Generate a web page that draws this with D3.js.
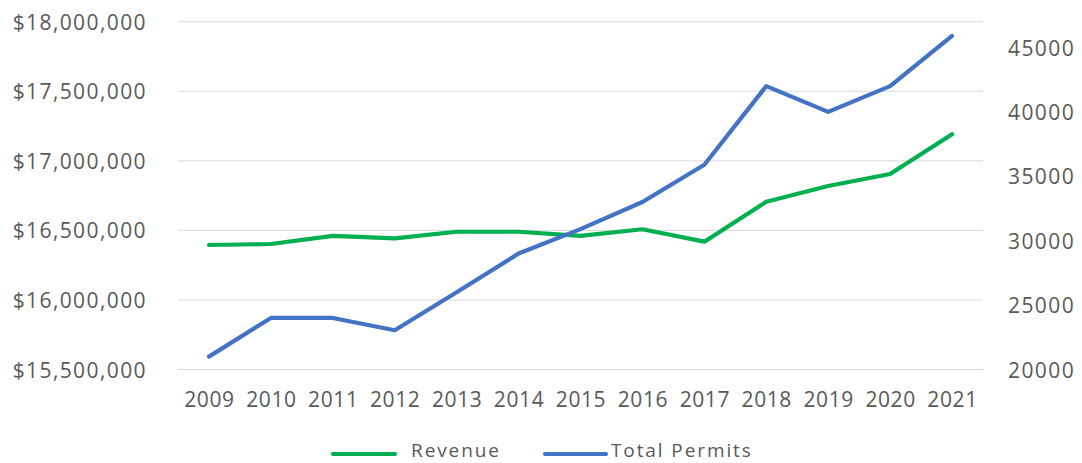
<!DOCTYPE html>
<html>
<head>
<meta charset="utf-8">
<script src="https://cdn.jsdelivr.net/npm/d3@7"></script>
<style>
  html, body { margin: 0; padding: 0; background: #fff; }
  svg text { font-family: "Open Sans", sans-serif; fill: #595959; }
</style>
</head>
<body>
<svg id="chart" width="1082" height="463"></svg>
<script>
const years = ["2009","2010","2011","2012","2013","2014","2015","2016","2017","2018","2019","2020","2021"];
const revenue = [16395000, 16402000, 16460000, 16443000, 16490000, 16490000, 16460000, 16508000, 16419000, 16706000, 16819000, 16905000, 17191000];
const permits = [21000, 24000, 24000, 23050, 26000, 29000, 30900, 33000, 35900, 42000, 40000, 42000, 45900];
const leftTicks = [15500000, 16000000, 16500000, 17000000, 17500000, 18000000];
const rightTicks = [20000, 25000, 30000, 35000, 40000, 45000];
const seriesNames = ["Revenue", "Total Permits"];
const seriesColors = ["#00B050", "#4472C4"];

const svg = d3.select("#chart");
const plot = { left: 178, right: 983, top: 21.7, bottom: 369.5 };

const x = d3.scalePoint().domain(years).range([plot.left, plot.right]).padding(0.5);
const yL = d3.scaleLinear().domain([15500000, 18000000]).range([plot.bottom, plot.top]);
const yR = d3.scaleLinear().domain([20000, 47000]).range([plot.bottom, plot.top]);

// gridlines
svg.append("g").selectAll("line").data(leftTicks).join("line")
  .attr("x1", plot.left).attr("x2", plot.right)
  .attr("y1", d => yL(d)).attr("y2", d => yL(d))
  .attr("stroke", "#d9d9d9").attr("stroke-width", 1);

const fmtL = d => "$" + d3.format(",")(d);

// left axis
const axL = svg.append("g").attr("transform", `translate(${plot.left - 31},0)`)
  .call(d3.axisLeft(yL).tickValues(leftTicks).tickFormat(fmtL).tickSize(0).tickPadding(0));
axL.select(".domain").remove();
axL.selectAll("text").attr("font-size", 21).attr("letter-spacing", "1.4px").attr("dy", "0.36em").style("font-family", "'Open Sans', sans-serif").attr("fill", "#595959");

// right axis
const axR = svg.append("g").attr("transform", `translate(${plot.right + 25},0)`)
  .call(d3.axisRight(yR).tickValues(rightTicks).tickFormat(d3.format("d")).tickSize(0).tickPadding(0));
axR.select(".domain").remove();
axR.selectAll("text").attr("font-size", 21).attr("letter-spacing", "1.4px").attr("dy", "0.36em").style("font-family", "'Open Sans', sans-serif").attr("fill", "#595959");

// x axis
const axX = svg.append("g").attr("transform", `translate(0,${plot.bottom})`)
  .call(d3.axisBottom(x).tickSize(0).tickPadding(0));
axX.select(".domain").remove();
axX.selectAll("text").attr("font-size", 21).attr("letter-spacing", "0.6px").attr("y", 30).attr("dy", "0.36em").style("font-family", "'Open Sans', sans-serif").attr("fill", "#595959");

// lines
const lineL = d3.line().x((d, i) => x(years[i])).y(d => yL(d));
const lineR = d3.line().x((d, i) => x(years[i])).y(d => yR(d));

svg.append("path").datum(revenue).attr("d", lineL)
  .attr("fill", "none").attr("stroke", seriesColors[0]).attr("stroke-width", 4.2)
  .attr("stroke-linecap", "round").attr("stroke-linejoin", "round");
svg.append("path").datum(permits).attr("d", lineR)
  .attr("fill", "none").attr("stroke", seriesColors[1]).attr("stroke-width", 4.2)
  .attr("stroke-linecap", "round").attr("stroke-linejoin", "round");

// legend
const legendItems = [
  { name: seriesNames[0], color: seriesColors[0], x1: 333, x2: 395, tx: 411 },
  { name: seriesNames[1], color: seriesColors[1], x1: 545, x2: 606, tx: 611 }
];
const lg = svg.append("g");
legendItems.forEach(it => {
  lg.append("line").attr("x1", it.x1).attr("x2", it.x2).attr("y1", 454).attr("y2", 454)
    .attr("stroke", it.color).attr("stroke-width", 4.2).attr("stroke-linecap", "round");
  lg.append("text").attr("x", it.tx).attr("y", 457)
    .attr("font-size", 19).attr("letter-spacing", "1.9px").text(it.name);
});
</script>
</body>
</html>
